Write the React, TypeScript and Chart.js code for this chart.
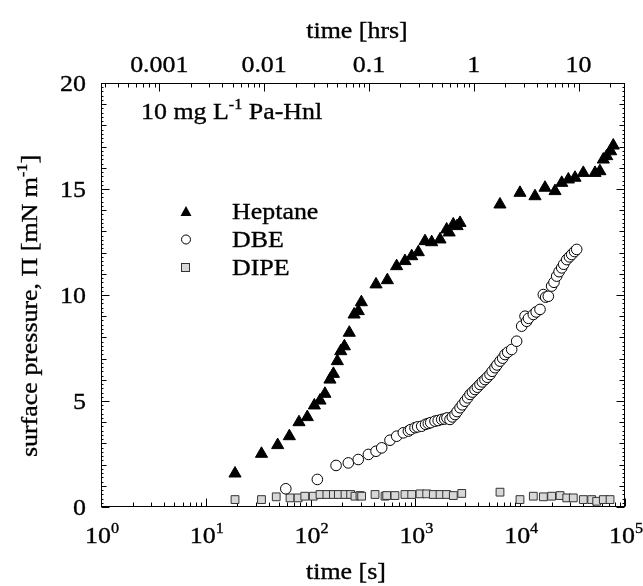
import React, { useEffect, useRef } from "react";
import { Chart, registerables } from "chart.js";

Chart.register(...registerables);

// ---------- data (time in seconds, surface pressure in mN/m) ----------
const heptaneTime = [19, 34, 48.5, 62.7, 77.5, 93, 108.6, 123, 137, 153, 165, 180, 194, 210, 234, 260, 285, 305, 421, 540, 662, 795, 922, 1066, 1235, 1430, 1718, 1987, 2100, 2300, 2500, 2666, 6410, 9950, 13840, 17250, 21480, 24900, 28800, 33340, 40000, 51760, 57600, 62100, 66900, 73000, 77300];
const heptaneValue = [1.58, 2.51, 2.92, 3.34, 4.0, 4.24, 4.79, 5.02, 5.34, 6.01, 6.28, 6.88, 7.35, 7.58, 8.22, 9.08, 9.24, 9.66, 10.5, 10.7, 11.36, 11.6, 11.83, 12.02, 12.54, 12.49, 12.62, 13.09, 12.95, 13.33, 13.25, 13.4, 14.27, 14.82, 14.66, 15.06, 14.9, 15.29, 15.45, 15.53, 15.76, 15.76, 15.84, 16.39, 16.55, 16.78, 17.05];

const dbeTime = [58, 116, 175, 229, 285, 356, 421, 477, 572, 663, 767, 857, 900, 991, 1050, 1148, 1250, 1328, 1400, 1538, 1650, 1782, 1900, 2000, 2138, 2250, 2387, 2500, 2666, 2800, 2974, 3150, 3320, 3500, 3706, 3900, 4130, 4350, 4614, 4850, 5150, 5400, 5750, 6000, 6415, 6800, 7160, 7600, 8290, 9250, 10330, 11120, 11530, 12000, 13340, 14200, 15450, 16630, 17500, 18550, 19950, 21000, 22300, 23500, 24900, 26000, 27800, 29500, 31000, 33000, 34600];
const dbeValue = [0.86, 1.3, 1.96, 2.08, 2.24, 2.48, 2.63, 2.79, 3.15, 3.34, 3.5, 3.58, 3.65, 3.74, 3.78, 3.81, 3.9, 3.94, 3.98, 4.05, 4.08, 4.13, 4.15, 4.2, 4.13, 4.25, 4.36, 4.5, 4.68, 4.82, 4.99, 5.15, 5.31, 5.42, 5.54, 5.65, 5.78, 5.9, 6.01, 6.12, 6.25, 6.4, 6.57, 6.7, 6.88, 7.02, 7.19, 7.3, 7.43, 7.82, 8.53, 9.0, 8.76, 8.9, 9.08, 9.2, 9.32, 10.02, 9.9, 9.94, 10.42, 10.6, 10.89, 11.1, 11.28, 11.45, 11.67, 11.8, 11.91, 12.05, 12.15];

const dipeTime = [19, 34, 47, 63.6, 76, 88, 106, 123, 143, 165, 184, 213, 241, 265, 296, 307, 412, 513, 532, 638, 795, 922, 1107, 1282, 1483, 1718, 1987, 2300, 2768, 6415, 9950, 13340, 16630, 19950, 24000, 27800, 32100, 40000, 48100, 53700, 62100, 72000];
const dipeValue = [0.35, 0.35, 0.48, 0.43, 0.43, 0.51, 0.51, 0.59, 0.59, 0.59, 0.59, 0.59, 0.59, 0.51, 0.54, 0.51, 0.59, 0.51, 0.54, 0.54, 0.59, 0.59, 0.62, 0.62, 0.59, 0.59, 0.59, 0.54, 0.64, 0.7, 0.35, 0.51, 0.48, 0.51, 0.54, 0.43, 0.43, 0.35, 0.35, 0.27, 0.35, 0.35];

const seriesNames = ["Heptane", "DBE", "DIPE"];
const bottomTickExponents = [0, 1, 2, 3, 4, 5];
const topTickHours = [0.001, 0.01, 0.1, 1, 10];
const topTickLabels = ["0.001", "0.01", "0.1", "1", "10"];
const yTickValues = [0, 5, 10, 15, 20];
const xTitle = "time [s]";
const x2Title = "time [hrs]";
const yTitleMain = "surface pressure, \u03A0 [mN m";
const yTitleSup = "-1";
const yTitleEnd = "]";
const noteMain = "10 mg L";
const noteSup = "-1";
const noteEnd = " Pa-Hnl";

const SECONDS_PER_HOUR = 3600;
const FONT = "'Liberation Serif', 'Times New Roman', serif";
const FS = 24;
const SX = 1.08;

type Part = { t: string; sup?: boolean };

function drawRich(ctx: CanvasRenderingContext2D, parts: Part[], x: number, y: number, align: "left" | "center" | "right", size = FS, sx = SX) {
  const supSize = Math.round(size * 0.64);
  const widths = parts.map((p) => {
    ctx.font = `${p.sup ? supSize : size}px ${FONT}`;
    return ctx.measureText(p.t).width * sx;
  });
  const total = widths.reduce((a, b) => a + b, 0);
  let cx = align === "left" ? x : align === "center" ? x - total / 2 : x - total;
  ctx.textAlign = "left";
  ctx.textBaseline = "alphabetic";
  parts.forEach((p, i) => {
    ctx.font = `${p.sup ? supSize : size}px ${FONT}`;
    ctx.save();
    ctx.translate(cx, y + (p.sup ? -size * 0.4 : 0));
    ctx.scale(sx, 1);
    ctx.fillText(p.t, 0, 0);
    ctx.lineWidth = 0.35;
    ctx.strokeStyle = "#000";
    ctx.strokeText(p.t, 0, 0);
    ctx.restore();
    cx += widths[i];
  });
}

const decorPlugin = {
  id: "decor",
  beforeDatasetsDraw(chart: any) {
    const { ctx, chartArea: a, scales } = chart;
    const x = scales.x, x2 = scales.x2, y = scales.y;
    ctx.save();
    ctx.strokeStyle = "#000";
    ctx.lineWidth = 1;
    const L = Math.round(a.left) + 0.5, R = Math.round(a.right) - 0.5;
    const T = Math.round(a.top) + 0.5, B = Math.round(a.bottom) - 0.5;
    ctx.strokeRect(L, T, R - L, B - T);
    ctx.beginPath();
    for (let e = 0; e <= 5; e++) {
      for (let m = 1; m <= 9; m++) {
        const v = m * Math.pow(10, e);
        if (v > 1e5) break;
        const px = Math.round(x.getPixelForValue(v)) + 0.5;
        const len = m === 1 ? 8 : 4;
        ctx.moveTo(px, B);
        ctx.lineTo(px, B - len);
      }
    }
    const hMin = 1 / SECONDS_PER_HOUR, hMax = 1e5 / SECONDS_PER_HOUR;
    for (let e = -4; e <= 1; e++) {
      for (let m = 1; m <= 9; m++) {
        const v = m * Math.pow(10, e);
        if (v < hMin || v > hMax) continue;
        const px = Math.round(x2.getPixelForValue(v)) + 0.5;
        const len = m === 1 ? 8 : 4;
        ctx.moveTo(px, T);
        ctx.lineTo(px, T + len);
      }
    }
    for (let k = 0; k <= 100; k++) {
      const v = k * 0.2;
      const py = Math.round(y.getPixelForValue(v)) + 0.5;
      const len = k % 25 === 0 ? 8 : k % 5 === 0 ? 5 : 2;
      ctx.moveTo(L, py);
      ctx.lineTo(L + len, py);
      ctx.moveTo(R, py);
      ctx.lineTo(R - len, py);
    }
    ctx.stroke();
    ctx.restore();
  },
  afterDraw(chart: any) {
    const { ctx, chartArea: a, scales } = chart;
    const x = scales.x, x2 = scales.x2, y = scales.y;
    ctx.save();
    ctx.fillStyle = "#000";
    yTickValues.forEach((v) => {
      const py = y.getPixelForValue(v);
      drawRich(ctx, [{ t: String(v) }], a.left - 15, py + 8, "right");
    });
    topTickHours.forEach((h, i) => {
      const px = x2.getPixelForValue(h);
      drawRich(ctx, [{ t: topTickLabels[i] }], px, 72, "center");
    });
    drawRich(ctx, [{ t: x2Title }], 357, 38, "center");
    bottomTickExponents.forEach((e) => {
      const px = x.getPixelForValue(Math.pow(10, e));
      drawRich(ctx, [{ t: "10" }, { t: String(e), sup: true }], px + 1, 543, "center");
    });
    drawRich(ctx, [{ t: xTitle }], 346, 579, "center");
    ctx.save();
    ctx.translate(37, 306);
    ctx.rotate(-Math.PI / 2);
    drawRich(ctx, [{ t: yTitleMain }, { t: yTitleSup, sup: true }, { t: yTitleEnd }], 0, 0, "center");
    ctx.restore();
    drawRich(ctx, [{ t: noteMain }, { t: noteSup, sup: true }, { t: noteEnd }], 141, 119, "left");
    const lx = 186;
    const rows = [211.5, 239.5, 267.5];
    ctx.lineWidth = 1;
    ctx.beginPath();
    ctx.moveTo(lx, rows[0] - 5.5);
    ctx.lineTo(lx + 5.5, rows[0] + 4.5);
    ctx.lineTo(lx - 5.5, rows[0] + 4.5);
    ctx.closePath();
    ctx.fillStyle = "#000";
    ctx.fill();
    ctx.beginPath();
    ctx.arc(lx, rows[1], 4.5, 0, Math.PI * 2);
    ctx.fillStyle = "#fff";
    ctx.fill();
    ctx.strokeStyle = "#000";
    ctx.stroke();
    ctx.fillStyle = "#d8d8d8";
    ctx.fillRect(lx - 4.5, rows[2] - 4, 8, 8);
    ctx.strokeStyle = "#333";
    ctx.strokeRect(lx - 4.5, rows[2] - 4, 8, 8);
    ctx.fillStyle = "#000";
    seriesNames.forEach((n, i) => {
      drawRich(ctx, [{ t: n }], 232, rows[i] + 7, "left");
    });
    ctx.restore();
  },
};

function toPoints(t: number[], v: number[]) {
  return t.map((tt, i) => ({ x: tt, y: v[i] }));
}

export default function App() {
  const ref = useRef<HTMLCanvasElement | null>(null);
  useEffect(() => {
    if (!ref.current) return;
    const chart = new Chart(ref.current, {
      type: "scatter",
      data: {
        datasets: [
          {
            label: seriesNames[0],
            data: toPoints(heptaneTime, heptaneValue),
            pointStyle: "triangle",
            pointRadius: 7,
            backgroundColor: "#000",
            borderColor: "#000",
            borderWidth: 1,
          },
          {
            label: seriesNames[1],
            data: toPoints(dbeTime, dbeValue),
            pointStyle: "circle",
            pointRadius: 5.3,
            backgroundColor: "#fff",
            borderColor: "#000",
            borderWidth: 1,
          },
          {
            label: seriesNames[2],
            data: toPoints(dipeTime, dipeValue),
            pointStyle: "rect",
            pointRadius: 5.5,
            backgroundColor: "#d8d8d8",
            borderColor: "#333",
            borderWidth: 1,
          },
        ],
      },
      options: {
        responsive: false,
        animation: false,
        layout: { padding: { left: 0, right: 18, top: 0, bottom: 0 } },
        plugins: { legend: { display: false }, tooltip: { enabled: false } },
        scales: {
          x: {
            type: "logarithmic",
            position: "bottom",
            min: 1,
            max: 1e5,
            ticks: { display: false },
            grid: { display: false },
            border: { display: false },
            afterFit: (s: any) => { s.height = 79; },
          },
          x2: {
            type: "logarithmic",
            position: "top",
            min: 1 / SECONDS_PER_HOUR,
            max: 1e5 / SECONDS_PER_HOUR,
            ticks: { display: false },
            grid: { display: false },
            border: { display: false },
            afterFit: (s: any) => { s.height = 83; },
          },
          y: {
            type: "linear",
            min: 0,
            max: 20,
            ticks: { display: false },
            grid: { display: false },
            border: { display: false },
            afterFit: (s: any) => { s.width = 101; },
          },
        },
      } as any,
      plugins: [decorPlugin],
    });
    return () => chart.destroy();
  }, []);
  return (
    <div style={{ position: "fixed", left: 0, top: 0, width: 643, height: 586, background: "#fff" }}>
      <canvas ref={ref} width={643} height={586} style={{ display: "block" }} />
    </div>
  );
}
